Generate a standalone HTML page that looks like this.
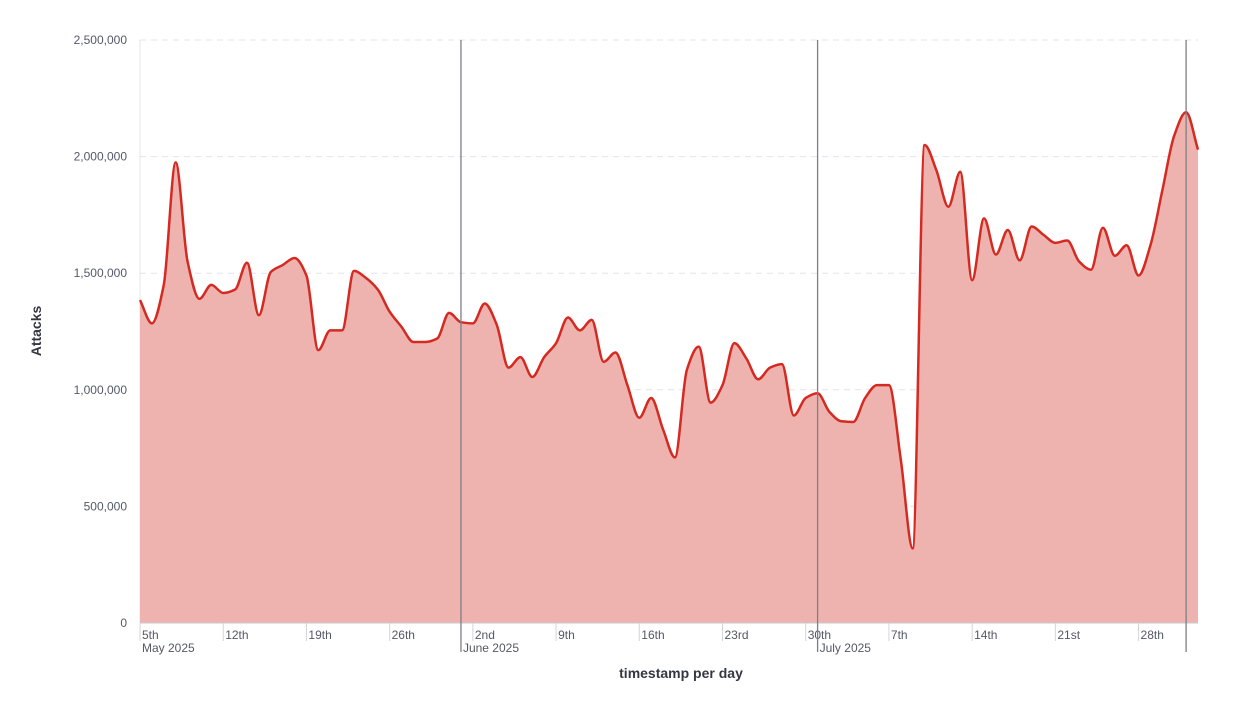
<!DOCTYPE html>
<html><head><meta charset="utf-8"><style>
body{margin:0;background:#fff;font-family:"Liberation Sans",sans-serif}
svg text{font-family:"Liberation Sans",sans-serif}
</style></head><body>
<svg id="chart" width="1250" height="701" xmlns="http://www.w3.org/2000/svg">
<g id="grid"></g>
<path id="area" fill="#eeb3ae"/>
<path id="line" fill="none" stroke="#d42a22" stroke-width="2.5"/>
<g id="xaxis"></g>
<g id="yaxis"></g>
<text x="41" y="331" transform="rotate(-90 41 331)" text-anchor="middle" font-size="14" font-weight="bold" fill="#343741">Attacks</text>
<text x="681" y="678" text-anchor="middle" font-size="14" font-weight="bold" fill="#343741">timestamp per day</text>
</svg>
<script>
const values=[1.385,1.285,1.45,1.975,1.55,1.39,1.45,1.415,1.43,1.545,1.32,1.505,1.535,1.565,1.49,1.17,1.255,1.255,1.51,1.48,1.43,1.335,1.27,1.205,1.205,1.22,1.33,1.29,1.285,1.37,1.28,1.095,1.14,1.055,1.14,1.2,1.31,1.255,1.30,1.12,1.16,1.02,0.88,0.965,0.83,0.71,1.085,1.185,0.945,1.02,1.2,1.135,1.045,1.095,1.11,0.89,0.965,0.985,0.905,0.865,0.862,0.965,1.02,1.02,0.70,0.32,2.05,1.94,1.785,1.935,1.47,1.735,1.58,1.685,1.555,1.70,1.665,1.63,1.64,1.55,1.515,1.695,1.575,1.62,1.49,1.62,1.855,2.09,2.19,2.03].map(v=>v*1e6);
const yTicks=[0,500000,1000000,1500000,2000000,2500000];
const xTickDays=[0,7,14,21,28,35,42,49,56,63,70,77,84];
const xTickLabels=["5th","12th","19th","26th","2nd","9th","16th","23rd","30th","7th","14th","21st","28th"];
const monthDays=[0,27,57,88];
const monthLabels=["May 2025","June 2025","July 2025",""];
const X0=140,X1=1198,Y0=623,Y1=40,NDAYS=89,YMAX=2500000;
const x=d=>X0+d*(X1-X0)/NDAYS;
const y=v=>Y0-v/YMAX*(Y0-Y1);
const NS="http://www.w3.org/2000/svg";
function mk(tag,attrs,parent,txt){const e=document.createElementNS(NS,tag);for(const k in attrs)e.setAttribute(k,attrs[k]);if(txt!==undefined)e.textContent=txt;parent.appendChild(e);return e;}
const grid=document.getElementById('grid'),ya=document.getElementById('yaxis'),xa=document.getElementById('xaxis');
yTicks.forEach(t=>{
 if(t>0){const g=mk('line',{x1:X0,x2:X1,y1:y(t),y2:y(t),stroke:'#e3e4ea','stroke-dasharray':'6 5'},grid);
 
 }
 const l=mk('text',{x:127,y:y(t)+4,'text-anchor':'end','font-size':12,fill:'#535966'},ya,t.toLocaleString('en-US'));
 
 
});
mk('line',{x1:X0,x2:X0,y1:Y1,y2:Y0,stroke:'#e3e4ea'},grid);
// curve (monotone cubic)
const pts=values.map((v,i)=>[x(i),y(v)]);
function monotone(p){const n=p.length,dx=[],s=[],m=[];for(let i=0;i<n-1;i++){dx[i]=p[i+1][0]-p[i][0];s[i]=(p[i+1][1]-p[i][1])/dx[i];}
m[0]=s[0];m[n-1]=s[n-2];for(let i=1;i<n-1;i++){m[i]=s[i-1]*s[i]<=0?0:3*(dx[i-1]+dx[i])/((2*dx[i]+dx[i-1])/s[i-1]+(dx[i]+2*dx[i-1])/s[i]);}
let d=`M${p[0][0]},${p[0][1]}`;for(let i=0;i<n-1;i++){const h=dx[i]/3;d+=`C${p[i][0]+h},${p[i][1]+m[i]*h} ${p[i+1][0]-h},${p[i+1][1]-m[i+1]*h} ${p[i+1][0]},${p[i+1][1]}`;}return d;}
const d=monotone(pts);
document.getElementById('line').setAttribute('d',d);
document.getElementById('area').setAttribute('d',d+`L${X1},${Y0}L${X0},${Y0}Z`);
mk('line',{x1:X0,x2:X1,y1:Y0,y2:Y0,stroke:'#c8cad1'},xa);
xTickDays.forEach((dd,i)=>{
 mk('line',{x1:x(dd),x2:x(dd),y1:Y0,y2:Y0+18,stroke:'#d3d5db'},xa);
 const t=mk('text',{x:x(dd)+2,y:Y0+16,'font-size':12,fill:'#535966'},xa,xTickLabels[i]);
 
 
});
monthDays.forEach((dd,i)=>{
 if(dd>0){const v=mk('line',{x1:x(dd),x2:x(dd),y1:Y1,y2:652,stroke:'#7d7f86','stroke-width':1.3},xa);
 
 }
 if(monthLabels[i]){const t=mk('text',{x:x(dd)+2,y:Y0+29,'font-size':12,fill:'#535966'},xa,monthLabels[i]);
 
 }
});
</script>
</body></html>
